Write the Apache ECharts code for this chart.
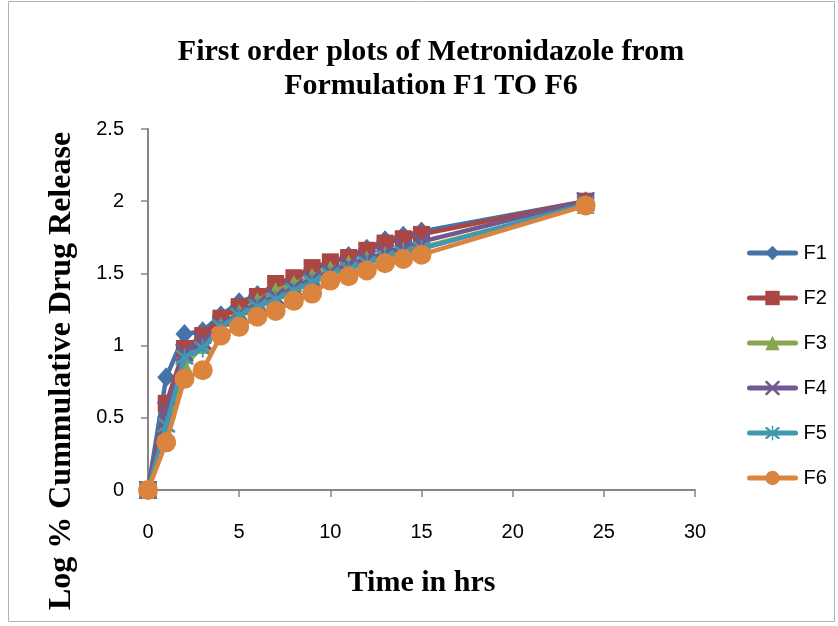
<!DOCTYPE html>
<html>
<head>
<meta charset="utf-8">
<script src="https://cdn.jsdelivr.net/npm/echarts@6/dist/echarts.min.js"></script>
<style>html,body{margin:0;padding:0;background:#fff;}#c{width:838px;height:626px;}</style>
</head>
<body>
<div id="c"></div>
<script>
var times = [0,1,2,3,4,5,6,7,8,9,10,11,12,13,14,15,24];
var F1 = [0, 0.78, 1.08, 1.10, 1.21, 1.30, 1.35, 1.40, 1.46, 1.53, 1.57, 1.62, 1.67, 1.73, 1.76, 1.79, 2.00];
var F2 = [0, 0.60, 0.98, 1.07, 1.19, 1.27, 1.34, 1.43, 1.47, 1.54, 1.58, 1.61, 1.66, 1.71, 1.74, 1.77, 2.00];
var F3 = [0, 0.40, 0.86, 1.00, 1.14, 1.23, 1.31, 1.38, 1.43, 1.48, 1.53, 1.57, 1.60, 1.63, 1.66, 1.68, 1.97];
var F4 = [0, 0.55, 0.95, 1.03, 1.14, 1.22, 1.29, 1.34, 1.40, 1.46, 1.51, 1.56, 1.60, 1.64, 1.68, 1.72, 2.00];
var F5 = [0, 0.45, 0.92, 0.98, 1.13, 1.21, 1.27, 1.32, 1.38, 1.44, 1.49, 1.53, 1.57, 1.61, 1.64, 1.67, 1.98];
var F6 = [0, 0.33, 0.77, 0.83, 1.07, 1.13, 1.20, 1.24, 1.31, 1.36, 1.45, 1.48, 1.52, 1.57, 1.60, 1.63, 1.97];
var names = ['F1','F2','F3','F4','F5','F6'];
var values = [F1,F2,F3,F4,F5,F6];
var colors = ['#4572A7','#AA4643','#89A54E','#71588F','#4198AF','#DB843D'];
var xPath = 'path://M0,0 L2.5,0 L10,7.5 L17.5,0 L20,0 L20,2.5 L12.5,10 L20,17.5 L20,20 L17.5,20 L10,12.5 L2.5,20 L0,20 L0,17.5 L7.5,10 L0,2.5 Z';
var starPath = 'path://M0,0 L2.5,0 L10,7.5 L17.5,0 L20,0 L20,2.5 L12.5,10 L20,17.5 L20,20 L17.5,20 L10,12.5 L2.5,20 L0,20 L0,17.5 L7.5,10 L0,2.5 Z M9,-2 L11,-2 L11,22 L9,22 Z';
var symbols = ['diamond','rect','triangle',xPath,starPath,'circle'];
var sizes = [[18,20],17,[18,17],18,18,20];

var series = names.map(function(n,i){
  return {
    name: n, type: 'line',
    data: times.map(function(t,j){ return [t, values[i][j]]; }),
    symbol: symbols[i], symbolSize: sizes[i],
    lineStyle: {color: colors[i], width: 4.5},
    itemStyle: {color: colors[i]},
    z: 2 + i
  };
});

var chart = echarts.init(document.getElementById('c'));
chart.setOption({
  animation: false,
  title: {
    text: 'First order plots of Metronidazole from\nFormulation F1 TO F6',
    left: 426, top: 30, textAlign: 'center',
    textStyle: {fontFamily: 'Liberation Serif', fontWeight: 'bold', fontSize: 30, lineHeight: 34, color: '#000'}
  },
  legend: {
    orient: 'vertical', left: 742, top: 238,
    itemWidth: 46, itemHeight: 18, itemGap: 25,
    lineStyle: {width: 5, cap: 'round'},
    textStyle: {fontFamily: 'Liberation Sans', fontSize: 20, color: '#000', padding: [0,0,0,3]},
    data: names
  },
  grid: {left: 148, right: 143, top: 129, bottom: 136},
  xAxis: {
    type: 'value', min: 0, max: 30, interval: 5,
    name: 'Time in hrs', nameLocation: 'middle', nameGap: 78,
    nameTextStyle: {fontFamily: 'Liberation Serif', fontWeight: 'bold', fontSize: 30, color: '#000'},
    axisLine: {lineStyle: {color: '#868686', width: 2}},
    axisTick: {show: true, length: 7, lineStyle: {color: '#868686', width: 1.5}},
    axisLabel: {fontFamily: 'Liberation Sans', fontSize: 20, color: '#000', margin: 32},
    splitLine: {show: false}
  },
  yAxis: {
    type: 'value', min: 0, max: 2.5, interval: 0.5,
    axisLine: {show: true, lineStyle: {color: '#868686', width: 2}},
    axisTick: {show: true, length: 7, lineStyle: {color: '#868686', width: 1.5}},
    axisLabel: {fontFamily: 'Liberation Sans', fontSize: 20, color: '#000', margin: 24},
    splitLine: {show: false}
  },
  graphic: [{
    type: 'rect', shape: {x: 8.5, y: 1.5, width: 826, height: 620},
    style: {fill: 'none', stroke: '#b0b0b0', lineWidth: 1}, silent: true
  }, {
    type: 'text', x: 62, y: 371, rotation: Math.PI / 2,
    style: {text: 'Log % Cummulative Drug Release', fontFamily: 'Liberation Serif', fontWeight: 'bold', fontSize: 32,
      fill: '#000', align: 'center', verticalAlign: 'middle'},
    silent: true
  }],
  series: series
});
</script>
</body>
</html>
